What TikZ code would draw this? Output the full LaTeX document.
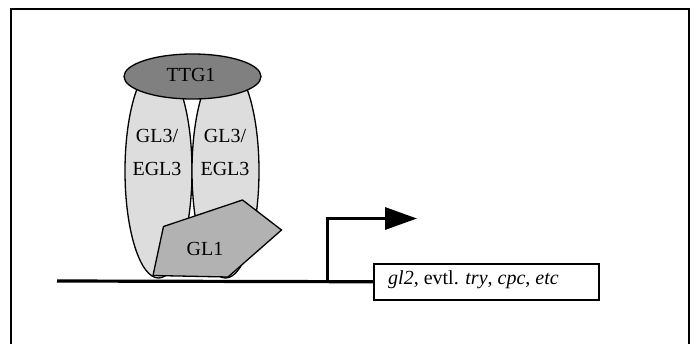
\documentclass[tikz,border=0pt]{standalone}
\usepackage{fontspec}
\setmainfont{Liberation Serif}
\usetikzlibrary{arrows.meta}
\definecolor{ttgfill}{RGB}{128,128,128}
\definecolor{glfill}{RGB}{221,221,221}
\definecolor{glonefill}{RGB}{178,178,178}
\begin{document}
\begin{tikzpicture}[x=1pt,y=-1pt,
  lbl/.style={font=\fontsize{20}{23}\selectfont, inner sep=0pt, align=center},
  prot/.style={draw=black, line width=1.3pt},
  dna/.style={line width=3.2pt}]
\useasboundingbox (0,0) rectangle (699,343);
% frame
\draw[line width=2.3pt] (11,345) -- (11,9) -- (689,9) -- (689,345);
% GL3/EGL3 ellipses
\draw[prot, fill=glfill] (158.5,171) ellipse [x radius=33.5, y radius=107];
\draw[prot, fill=glfill] (225.5,171) ellipse [x radius=33.5, y radius=107];
\node[lbl] (gl3a) at (157,152) {GL3/\\[10pt]EGL3};
\node[lbl] (gl3b) at (225,152) {GL3/\\[10pt]EGL3};
% TTG1
\draw[prot, fill=ttgfill] (192.5,76.5) ellipse [x radius=68.5, y radius=22.5];
\node[lbl] (ttg) at (191,75) {TTG1};
% GL1 pentagon
\draw[prot, fill=glonefill, line join=miter] (153,275.5) -- (163.5,226.5) -- (242.5,200) -- (281.5,230) -- (228,277) -- cycle;
\node[lbl] (gl1) at (205,249) {GL1};
% gene box
\node[draw, line width=1.5pt, minimum width=225pt, minimum height=36pt, inner sep=0pt, anchor=north west] (box) at (373,263) {};
\node[lbl, anchor=west] (gtxt) at (388,280) {\textit{gl2}, evtl. \textit{try}, \textit{cpc}, \textit{etc}};
% DNA line
\coordinate (dnastart) at (57,281);
\coordinate (prom) at (327.5,281);
\coordinate (promtop) at (327.5,218.5);
\coordinate (tip) at (417,218.5);
\draw[dna] (dnastart) -- (box.west);
\draw[dna, -{Triangle[length=32pt,width=22pt]}] (prom) -- (promtop) -- (tip);
\end{tikzpicture}
\end{document}
